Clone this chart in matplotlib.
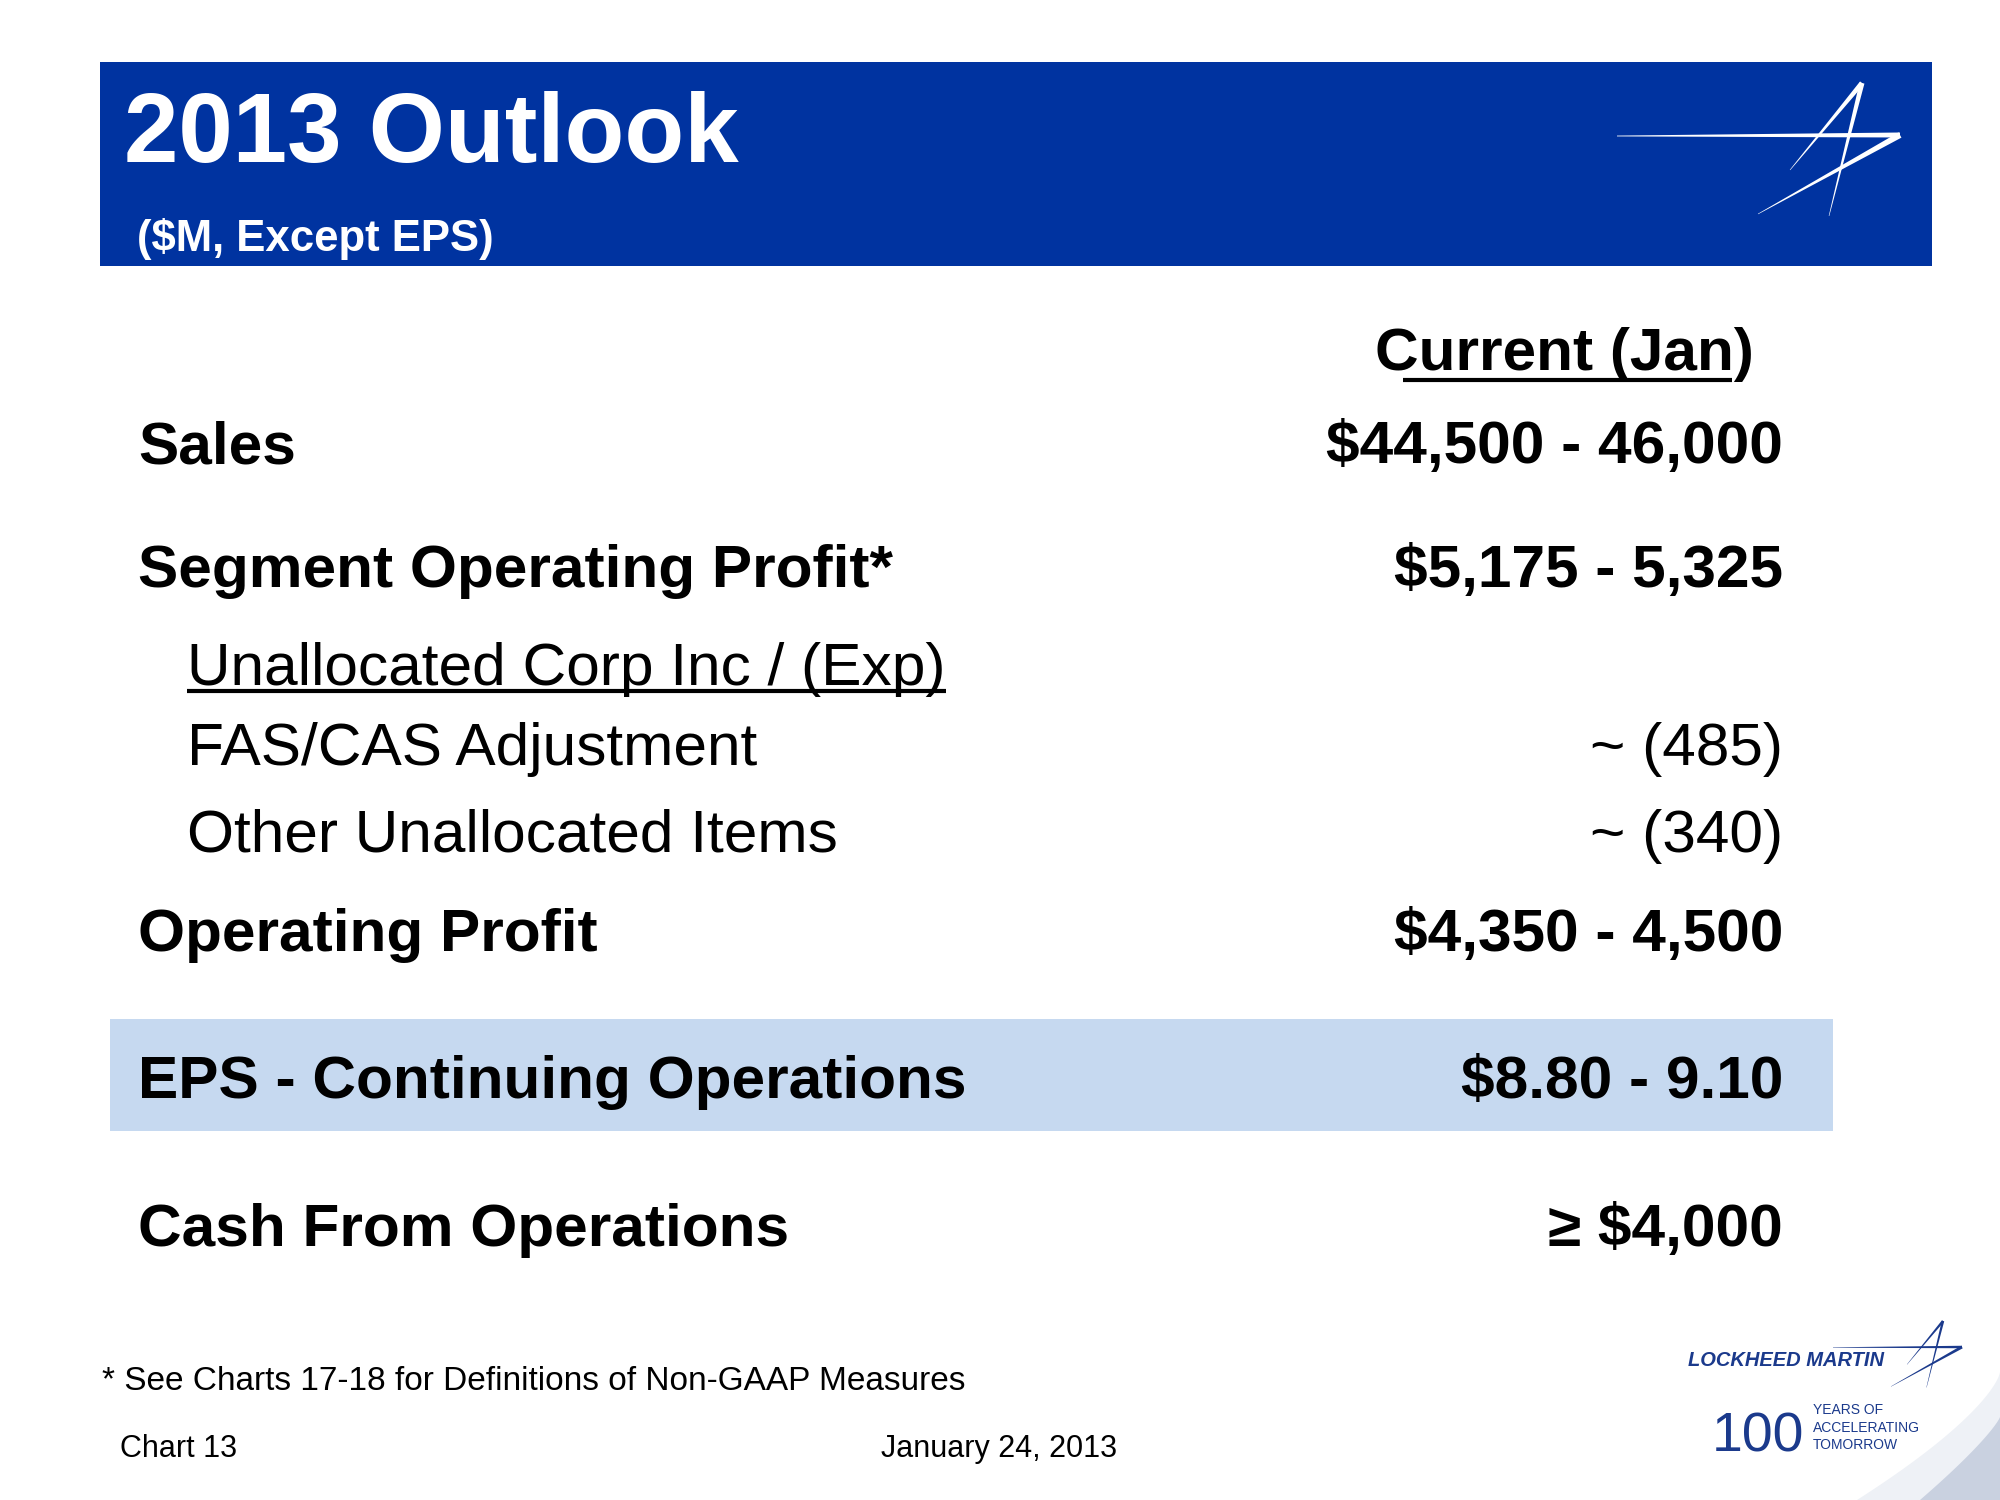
import numpy as np
import matplotlib
matplotlib.use("Agg")
import matplotlib.pyplot as plt
from matplotlib.patches import Rectangle, Polygon

# -------------------------
# data
# -------------------------
title = "2013 Outlook"
subtitle = "($M, Except EPS)"
column_head = "Current (Jan)"

row_labels = [
    "Sales",
    "Segment Operating Profit*",
    "Unallocated Corp Inc / (Exp)",
    "FAS/CAS Adjustment",
    "Other Unallocated Items",
    "Operating Profit",
    "EPS - Continuing Operations",
    "Cash From Operations",
]
row_values = [
    "$44,500 - 46,000",
    "$5,175 - 5,325",
    "",
    "~ (485)",
    "~ (340)",
    "$4,350 - 4,500",
    "$8.80 - 9.10",
    "\u2265 $4,000",
]
row_bold = [True, True, False, False, False, True, True, True]
row_indent = [False, False, True, True, True, False, False, False]

footnote = "* See Charts 17-18 for Definitions of Non-GAAP Measures"
chart_no = "Chart 13"
date_txt = "January 24, 2013"

# -------------------------
# layout (pixel coords, y down)
# -------------------------
W, H = 2000, 1500
row_base = [463, 587, 685, 765, 852, 951, 1098, 1246]
x_label, x_indent, x_value = 138, 187, 1783

BLUE = "#0033A0"
NAVY = "#1B3A8C"
BAND = "#C6D9F0"
FONT = ["Liberation Sans", "DejaVu Sans"]

plt.rcParams["font.family"] = FONT

fig = plt.figure(figsize=(20, 15), dpi=100)
ax = fig.add_axes([0, 0, 1, 1])
ax.set_xlim(0, W)
ax.set_ylim(H, 0)
ax.axis("off")


def wedge(p0, p1, w0, w1, color):
    # tapered stroke from p0 (width w0) to p1 (width w1)
    p0, p1 = np.array(p0, float), np.array(p1, float)
    d = p1 - p0
    n = np.array([-d[1], d[0]]) / np.hypot(*d)
    pts = [p0 + n * w0 / 2, p1 + n * w1 / 2, p1 - n * w1 / 2, p0 - n * w0 / 2]
    ax.add_patch(Polygon(pts, closed=True, color=color, lw=0))


def star(tip, s, color, left_len):
    tx, ty = tip
    P = lambda dx, dy: (tx + dx * s, ty + dy * s)
    wedge(P(-left_len, 1), P(0, 0), 0.8 * s, 5 * s, color)          # horizontal
    wedge(P(0, 0), P(-142, 79), 6 * s, 0.5 * s, color)              # diagonal back
    wedge(P(-38, -52), P(-110, 35), 5 * s, 0.5 * s, color)          # A left leg
    wedge(P(-38, -52), P(-71, 81), 5 * s, 0.5 * s, color)           # A right leg


# -------------------------
# header
# -------------------------
ax.add_patch(Rectangle((100, 62), 1832, 204, color=BLUE, lw=0))
ax.text(124, 162, title, color="white", fontsize=70.5, fontweight="bold",
        ha="left", va="baseline")
ax.text(137, 251, subtitle, color="white", fontsize=31.5, fontweight="bold",
        ha="left", va="baseline")
star((1900, 135), 1.0, "white", 283)

# -------------------------
# table
# -------------------------
ax.text(1375, 370, column_head, fontsize=43.5, fontweight="bold",
        ha="left", va="baseline")
ax.plot([1403, 1732], [380, 380], color="black", lw=3, solid_capstyle="butt")

# EPS highlight band
ax.add_patch(Rectangle((110, 1019), 1723, 112, color=BAND, lw=0, zorder=0))

label_artists = []
for lab, val, b, ind, yb in zip(row_labels, row_values, row_bold, row_indent, row_base):
    wt = "bold" if b else "normal"
    t = ax.text(x_indent if ind else x_label, yb, lab, fontsize=43.5,
                fontweight=wt, ha="left", va="baseline")
    label_artists.append(t)
    if val:
        ax.text(x_value, yb, val, fontsize=43.5, fontweight=wt,
                ha="right", va="baseline")

# underline under the "Unallocated" sub-heading
fig.canvas.draw()
bb = label_artists[2].get_window_extent().transformed(ax.transData.inverted())
ax.plot([min(bb.x0, bb.x1), max(bb.x0, bb.x1)], [691, 691], color="black",
        lw=3, solid_capstyle="butt")

# -------------------------
# footer
# -------------------------
ax.text(102, 1390, footnote, fontsize=24, ha="left", va="baseline")
ax.text(120, 1457, chart_no, fontsize=22, ha="left", va="baseline")
ax.text(881, 1457, date_txt, fontsize=22, ha="left", va="baseline")

# corner swoosh
t = np.linspace(0, 1, 60)
cx = 2000 - 143 * t ** 1.4
cy = 1372 + 128 * t
ax.add_patch(Polygon(np.column_stack([np.r_[cx, 2000], np.r_[cy, 1500]]),
                     color="#EEF1F6", lw=0))
cx2 = 2000 - 80 * t ** 1.2
cy2 = 1417 + 83 * t
ax.add_patch(Polygon(np.column_stack([np.r_[cx2, 2000], np.r_[cy2, 1500]]),
                     color="#C9D1E0", lw=0))

# Lockheed Martin logo
ax.text(1688, 1366, "LOCKHEED MARTIN", color=NAVY, fontsize=14.5,
        fontweight="bold", fontstyle="italic", ha="left", va="baseline")
star((1962, 1347), 0.5, NAVY, 258)
ax.text(1712, 1452, "100", color=NAVY, fontsize=40,
        ha="left", va="baseline")
for i, line in enumerate(["YEARS OF", "ACCELERATING", "TOMORROW"]):
    ax.text(1813, 1414 + 17.5 * i, line, color=NAVY, fontsize=10,
            ha="left", va="baseline")

fig.savefig("out.png", dpi=100)
